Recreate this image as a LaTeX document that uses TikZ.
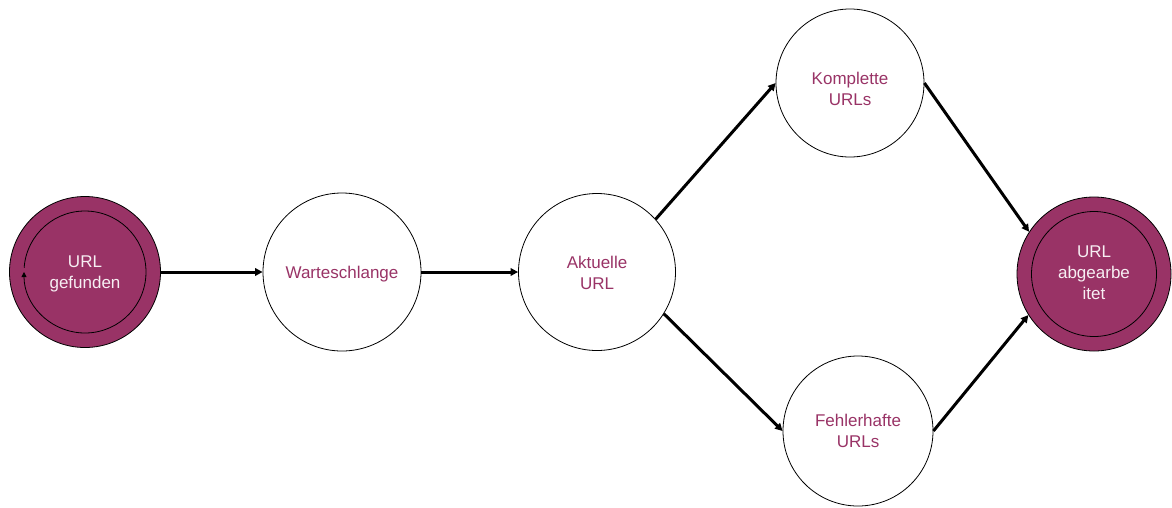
\documentclass[tikz,border=0pt]{standalone}
\usepackage{fontspec}
\setmainfont{Liberation Sans}
\usetikzlibrary{arrows.meta}
\definecolor{plum}{HTML}{993366}
\begin{document}
\begin{tikzpicture}[x=1pt,y=-1pt,
  state/.style={circle,draw=black,line width=0.8pt,fill=white,inner sep=0pt},
  endstate/.style={state,fill=plum},
  lbl/.style={text=plum,align=center,inner sep=0pt,font=\fontsize{17}{21}\selectfont},
  endlbl/.style={lbl,text=white!92!plum},
  ring/.style={draw=black,line width=0.8pt},
  flow/.style={line width=3pt,-{Triangle[length=7.5pt,width=7.5pt]}}]
\useasboundingbox (0,0) rectangle (1172,507);
\node[endstate,minimum size=151pt,label={[endlbl,yshift=-2pt]center:URL\\gefunden}] (start) at (85,272) {};
\node[state,minimum size=158pt,label={[lbl,yshift=-2pt]center:Warteschlange}] (warte) at (342,272) {};
\node[state,minimum size=157pt,label={[lbl,yshift=-1pt]center:Aktuelle\\URL}] (akt) at (597,272) {};
\node[state,minimum size=148pt,label={[lbl,yshift=-5.5pt]center:Komplette\\URLs}] (komp) at (850,83) {};
\node[state,minimum size=150pt,label={[lbl]center:Fehlerhafte\\URLs}] (fehl) at (858,431) {};
\node[endstate,minimum size=154pt,label={[endlbl,yshift=1.5pt]center:URL\\abgearbe\\itet}] (ende) at (1094,274) {};
% inner rings
\draw[ring,-{Triangle[length=5pt,width=5pt]}] (start.center) ++(184:61) arc[start angle=184,end angle=540,radius=61];
\draw[ring] (ende.center) circle[radius=62.5];
% connectors
\draw[flow] (start.east) -- (warte.west);
\draw[flow] (warte.east) -- (akt.west);
\draw[flow] (akt.42) -- (komp.west);
\draw[flow] (akt.-32) -- (fehl.west);
\draw[flow] (komp.east) -- (ende.147);
\draw[flow] (fehl.east) -- (ende.212);
\end{tikzpicture}
\end{document}
